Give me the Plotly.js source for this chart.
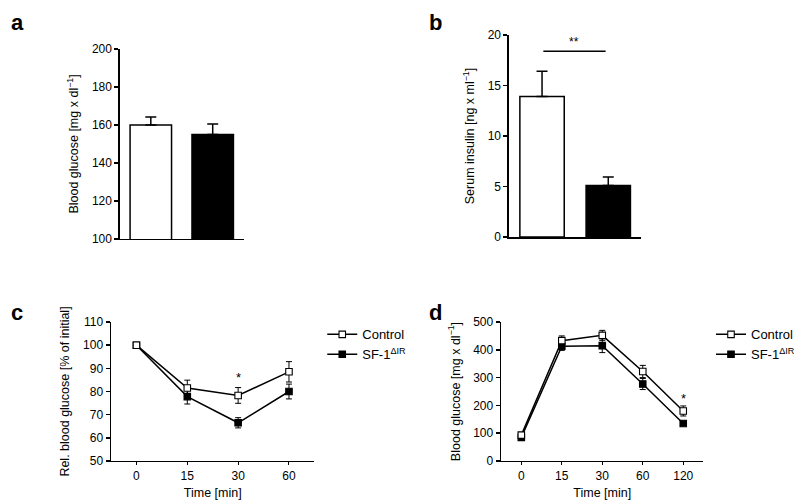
<!DOCTYPE html>
<html>
<head>
<meta charset="utf-8">
<script src="https://cdn.plot.ly/plotly-3.0.1.min.js"></script>
<style>
  body { margin: 0; background: #fff; }
  #chartContainer { width: 800px; height: 503px; }
</style>
</head>
<body>
<div id="chartContainer"></div>
<script>
// panel a - blood glucose (bars)
const groups = ['Control', 'SF-1<sup>ΔIR</sup>'];
const glucoseMean = [160, 155];
const glucoseErr = [4.2, 5.5];

// panel b - serum insulin (bars)
const insulinMean = [13.9, 5.1];
const insulinErr = [2.5, 0.85];
const insulinSig = { x: [0.02, 0.96], y: 18.4, label: '**' };

// panel c - insulin tolerance test
const ittTimes = ['0', '15', '30', '60'];
const ittControl = [100, 81.5, 78.3, 88.5];
const ittControlErr = [0.3, 3.4, 3.4, 4.4];
const ittKO = [100, 77.8, 66.5, 80];
const ittKOErr = [0.3, 3.2, 2.2, 3.2];
const ittSig = { x: '30', y: 86 };

// panel d - glucose tolerance test
const gttTimes = ['0', '15', '30', '60', '120'];
const gttControl = [93, 433, 452, 322, 180];
const gttControlErr = [8, 17, 18, 22, 18];
const gttKO = [85, 413, 415, 277, 135];
const gttKOErr = [6, 15, 25, 20, 6];
const gttSig = { x: '120', y: 226 };

const FONT = 'Liberation Sans, Arial, sans-serif';
const BLACK = '#000';

function barTrace(x, y, err, fill, xa, ya) {
    return {
        x: x,
        y: y,
        type: 'bar',
        width: 0.67,
        xaxis: xa,
        yaxis: ya,
        showlegend: false,
        marker: { color: fill, line: { color: BLACK, width: 1.5 } },
        error_y: { type: 'data', array: err, arrayminus: [0], color: BLACK, thickness: 1.5, width: 5.5 },
        hoverinfo: 'skip'
    };
}

function lineTrace(x, y, err, name, fill, xa, ya, legend) {
    return {
        x: x,
        y: y,
        name: name,
        type: 'scatter',
        mode: 'lines+markers',
        xaxis: xa,
        yaxis: ya,
        legend: legend,
        line: { color: BLACK, width: 1.5 },
        marker: { symbol: 'square', size: 6.5, color: fill, line: { color: BLACK, width: 1.1 } },
        error_y: { type: 'data', array: err, color: BLACK, thickness: 1, width: 3 },
        cliponaxis: false
    };
}

const data = [
    barTrace([0], [glucoseMean[0]], [glucoseErr[0]], '#fff', 'x', 'y'),
    barTrace([1], [glucoseMean[1]], [glucoseErr[1]], BLACK, 'x', 'y'),
    barTrace([0], [insulinMean[0]], [insulinErr[0]], '#fff', 'x2', 'y2'),
    barTrace([1], [insulinMean[1]], [insulinErr[1]], BLACK, 'x2', 'y2'),
    lineTrace(ittTimes, ittKO, ittKOErr, groups[1], BLACK, 'x3', 'y3', 'legend'),
    lineTrace(ittTimes, ittControl, ittControlErr, groups[0], '#fff', 'x3', 'y3', 'legend'),
    lineTrace(gttTimes, gttKO, gttKOErr, groups[1], BLACK, 'x4', 'y4', 'legend2'),
    lineTrace(gttTimes, gttControl, gttControlErr, groups[0], '#fff', 'x4', 'y4', 'legend2')
];

const yBase = {
    showline: true, linecolor: BLACK, linewidth: 1.5,
    ticks: 'outside', ticklen: 4, tickwidth: 1.5, tickcolor: BLACK,
    showgrid: false, zeroline: false,
    tickfont: { family: FONT, size: 12, color: BLACK },
    fixedrange: true
};
const xBar = {
    showline: true, linecolor: BLACK, linewidth: 1.5,
    showticklabels: false, ticks: '', showgrid: false, zeroline: false,
    range: [-0.5, 1.5], fixedrange: true
};
const xLine = {
    type: 'category',
    showline: true, linecolor: BLACK, linewidth: 1.5,
    ticks: 'outside', ticklen: 3, tickwidth: 1, tickcolor: BLACK,
    showgrid: false, zeroline: false,
    tickfont: { family: FONT, size: 12, color: BLACK },
    fixedrange: true
};
const titleFont = { family: FONT, size: 12.5, color: BLACK };
const labelFont = { family: FONT, size: 22, color: BLACK };
const starFont = { family: FONT, size: 13, color: BLACK };

const legendBase = {
    xanchor: 'left', yanchor: 'top',
    traceorder: 'reversed', bgcolor: 'rgba(0,0,0,0)',
    font: { family: FONT, size: 13, color: BLACK },
    itemwidth: 30, tracegroupgap: 0
};

const layout = {
    width: 800,
    height: 503,
    margin: { l: 0, r: 0, t: 0, b: 0 },
    paper_bgcolor: '#fff',
    plot_bgcolor: '#fff',
    font: { family: FONT, color: BLACK },
    bargap: 0,
    xaxis: Object.assign({}, xBar, { domain: [0.1525, 0.31], anchor: 'y' }),
    yaxis: Object.assign({}, yBase, { domain: [0.5249, 0.9026], anchor: 'x', range: [100, 200], dtick: 20,
        title: { text: 'Blood glucose [mg x dl<sup>−1</sup>]', font: titleFont, standoff: 10 } }),
    xaxis2: Object.assign({}, xBar, { domain: [0.6475, 0.816], anchor: 'y2' }),
    yaxis2: Object.assign({}, yBase, { domain: [0.5288, 0.9304], anchor: 'x2', range: [0, 20], dtick: 5,
        title: { text: 'Serum insulin [ng x ml<sup>−1</sup>]', font: titleFont, standoff: 10 } }),
    xaxis3: Object.assign({}, xLine, { domain: [0.14125, 0.4], anchor: 'y3', range: [-0.5, 3.5],
        title: { text: 'Time [min]', font: titleFont, standoff: 6 } }),
    yaxis3: Object.assign({}, yBase, { domain: [0.0835, 0.3598], anchor: 'x3', range: [50, 110], dtick: 10,
        title: { text: 'Rel. blood glucose [% of initial]', font: titleFont, standoff: 10 } }),
    xaxis4: Object.assign({}, xLine, { domain: [0.6375, 0.895], anchor: 'y4', range: [-0.5, 4.5],
        title: { text: 'Time [min]', font: titleFont, standoff: 6 } }),
    yaxis4: Object.assign({}, yBase, { domain: [0.0835, 0.3598], anchor: 'x4', range: [0, 500], dtick: 100,
        title: { text: 'Blood glucose [mg x dl<sup>−1</sup>]', font: titleFont, standoff: 10 } }),
    legend: Object.assign({}, legendBase, { x: 0.41, y: 0.365 }),
    legend2: Object.assign({}, legendBase, { x: 0.905, y: 0.365 }),
    shapes: [
        { type: 'line', xref: 'x2', yref: 'y2', x0: insulinSig.x[0], x1: insulinSig.x[1],
          y0: insulinSig.y, y1: insulinSig.y, line: { color: BLACK, width: 1.5 } }
    ],
    annotations: [
        { text: '<b>a</b>', xref: 'paper', yref: 'paper', x: 0.012, y: 0.985, xanchor: 'left', yanchor: 'top', showarrow: false, font: labelFont },
        { text: '<b>b</b>', xref: 'paper', yref: 'paper', x: 0.543, y: 0.985, xanchor: 'left', yanchor: 'top', showarrow: false, font: labelFont },
        { text: '<b>c</b>', xref: 'paper', yref: 'paper', x: 0.012, y: 0.408, xanchor: 'left', yanchor: 'top', showarrow: false, font: labelFont },
        { text: '<b>d</b>', xref: 'paper', yref: 'paper', x: 0.543, y: 0.408, xanchor: 'left', yanchor: 'top', showarrow: false, font: labelFont },
        { text: insulinSig.label, xref: 'x2', yref: 'y2', x: (insulinSig.x[0] + insulinSig.x[1]) / 2, y: insulinSig.y, yanchor: 'bottom', showarrow: false, font: { family: FONT, size: 12, color: BLACK } },
        // category axes: place the stars by category index
        { text: '*', xref: 'x3', yref: 'y3', x: ittTimes.indexOf(ittSig.x), y: ittSig.y, showarrow: false, font: starFont },
        { text: '*', xref: 'x4', yref: 'y4', x: gttTimes.indexOf(gttSig.x), y: gttSig.y, showarrow: false, font: starFont }
    ]
};

Plotly.newPlot('chartContainer', data, layout, { displayModeBar: false, staticPlot: true });
</script>
</body>
</html>
